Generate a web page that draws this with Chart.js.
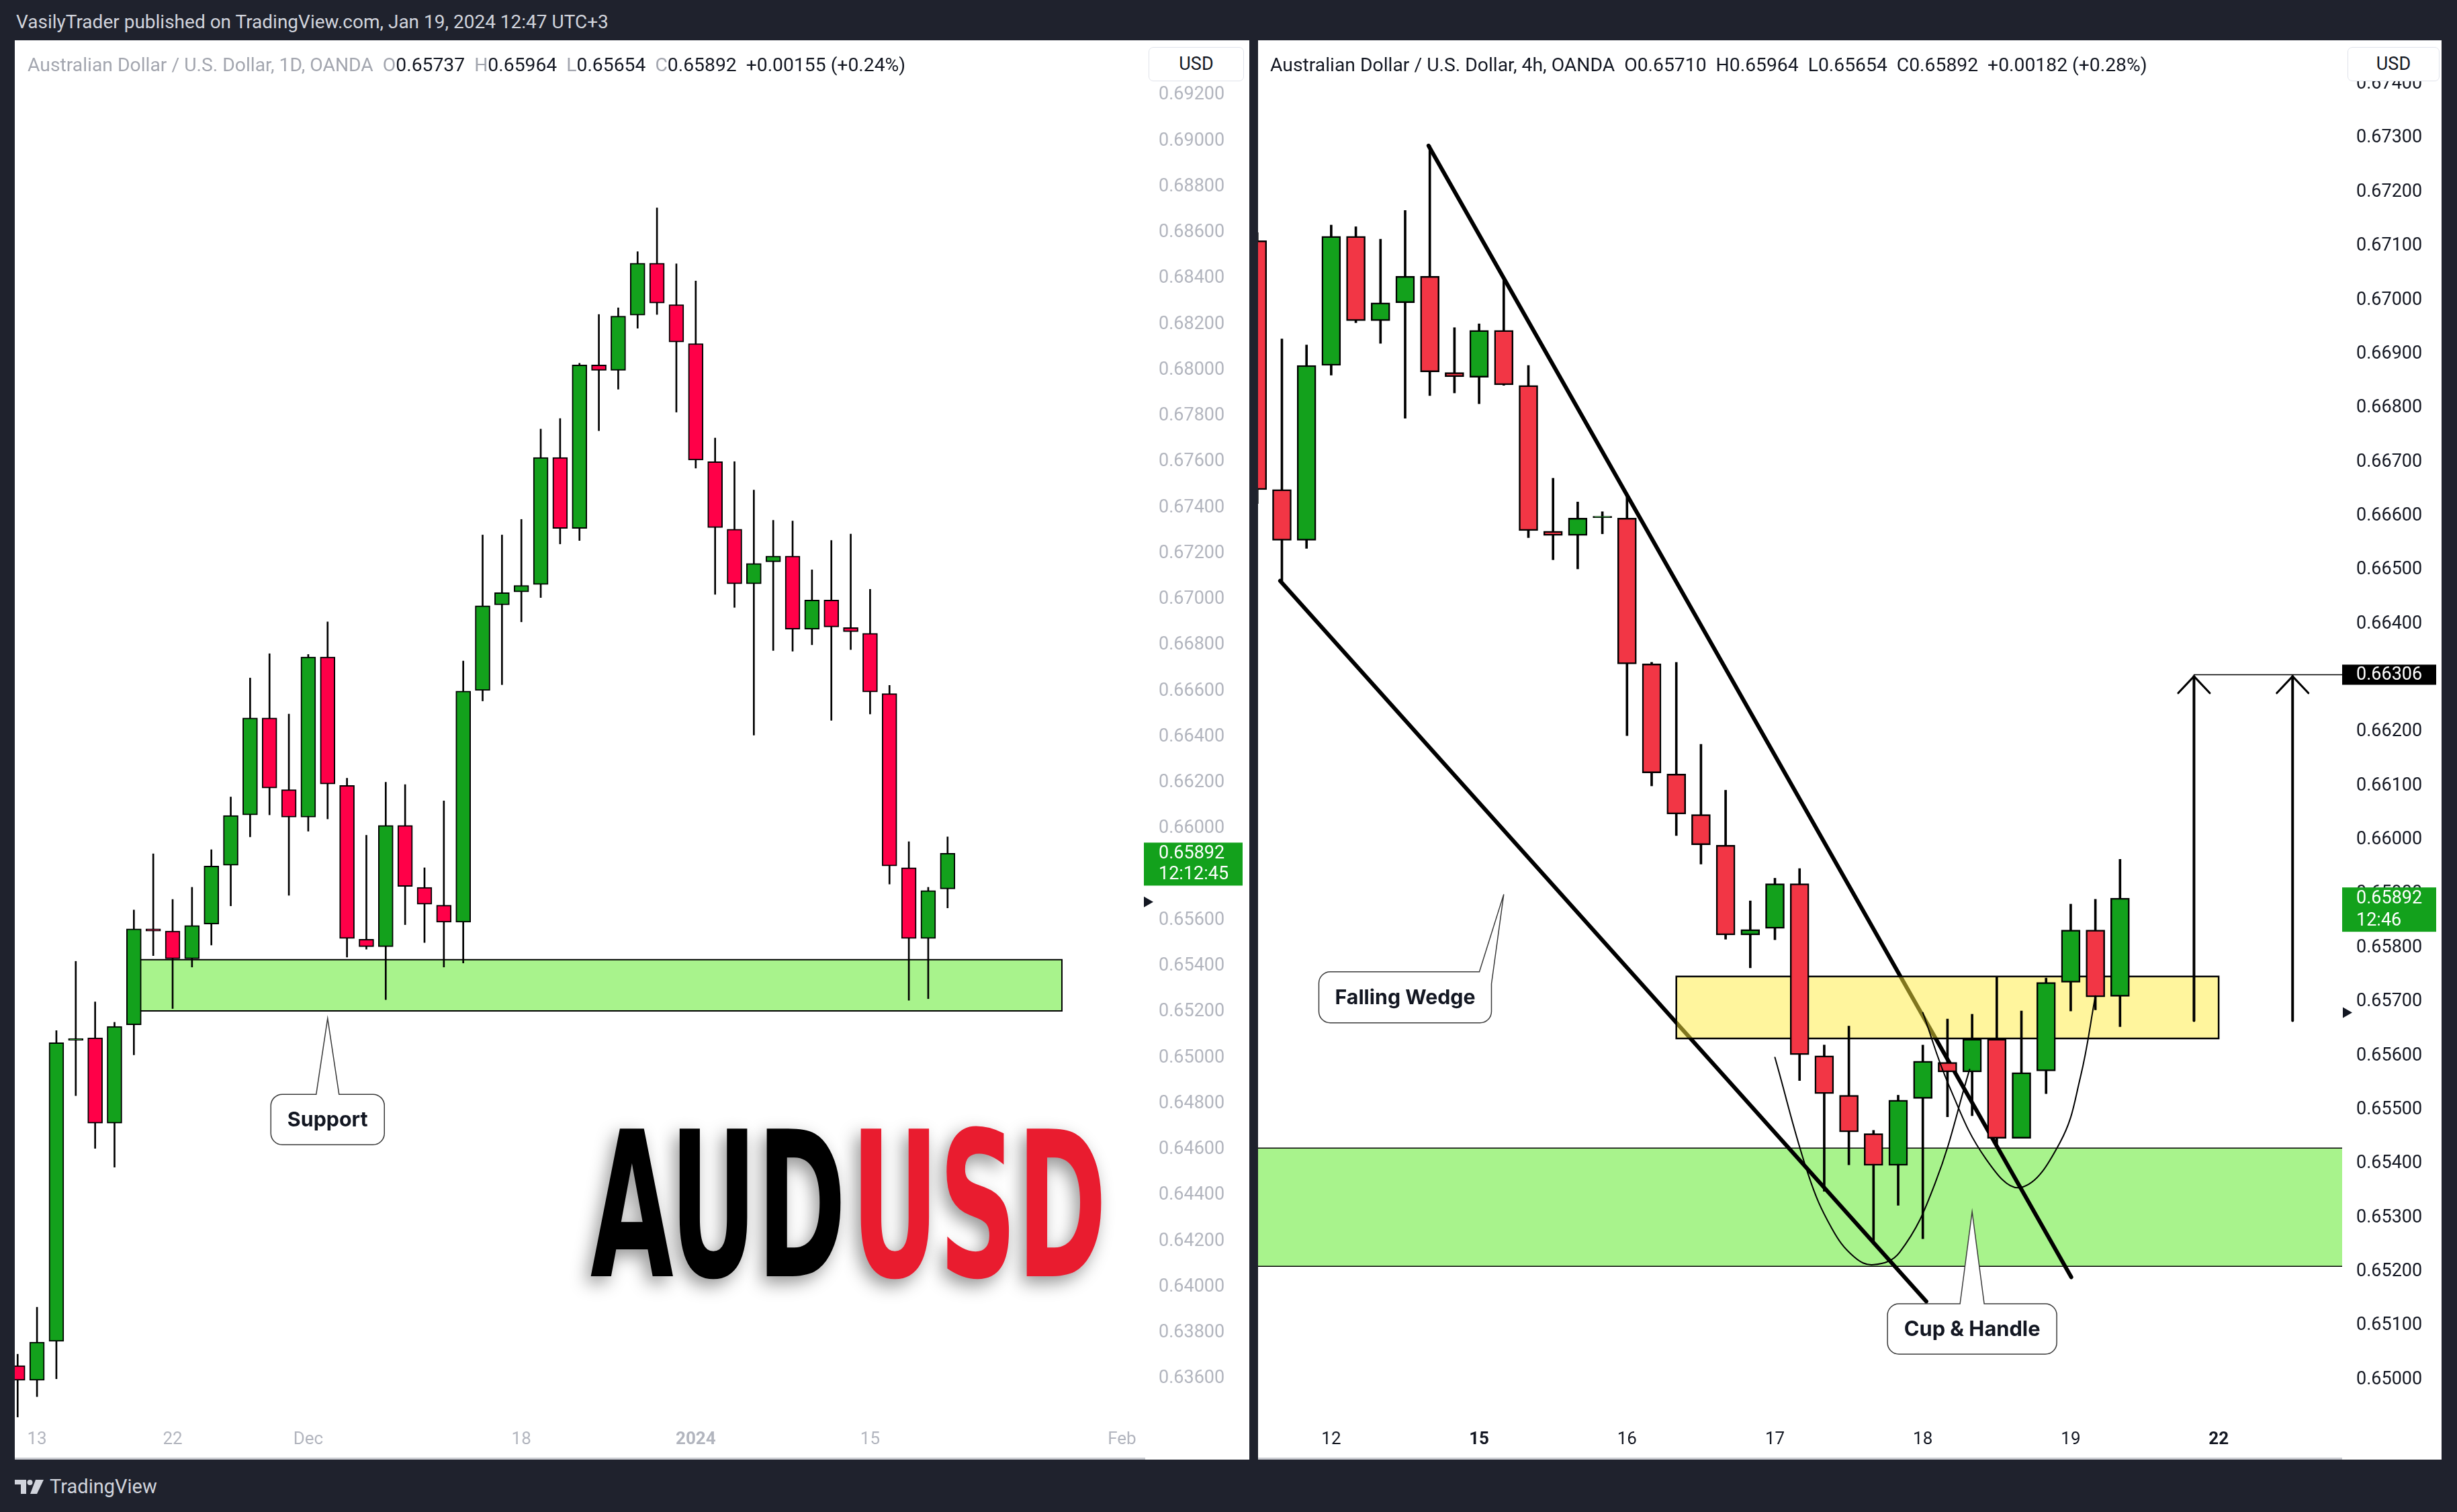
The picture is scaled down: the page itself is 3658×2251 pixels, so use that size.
<!DOCTYPE html>
<html>
<head>
<meta charset="utf-8">
<title>AUDUSD</title>
<script src="https://cdn.jsdelivr.net/npm/chart.js@4.4.1/dist/chart.umd.min.js"></script>
<style>
  html, body { margin:0; padding:0; }
  body { width:3658px; height:2251px; background:#1f222d; position:relative; overflow:hidden; font-family: Roboto, "Liberation Sans", Arial, sans-serif; }
  #pub { position:absolute; left:24px; top:14px; font-size:28px; line-height:38px; color:#d1d4dc; white-space:nowrap; }
  .panel { position:absolute; top:60px; height:2113px; background:#fff; overflow:hidden; }
  #pL { left:22px; width:1838px; }
  #pR { left:1873px; width:1762px; }
  .cw { position:absolute; left:0; top:0; width:100%; height:100%; }
  .legend { position:absolute; top:20px; font-size:28.3px; line-height:34px; white-space:nowrap; color:#131722; z-index:2; }
  .legend .g { color:#a3a6af; }
  .legend .sp { display:inline-block; width:14px; }
  .usd { position:absolute; top:10px; height:49px; border:1px solid #e0e3eb; border-radius:7px; background:#fff; font-size:27px; line-height:49px; text-align:center; color:#131722; z-index:2; }
  .scroll { position:absolute; bottom:0; left:0; height:3px; background:#c9cbd1; z-index:2; }
  #logo { position:absolute; left:22px; top:2195px; height:36px; display:flex; align-items:center; color:#d1d4dc; font-size:29px; gap:9px; }
</style>
</head>
<body>
<div id="pub">VasilyTrader published on TradingView.com, Jan 19, 2024 12:47 UTC+3</div>

<div class="panel" id="pL">
  <div class="cw"><canvas id="cL"></canvas></div>
  <div class="legend" style="left:19px"><span class="g">Australian Dollar / U.S. Dollar, 1D, OANDA</span><span class="sp"></span><span class="g">O</span>0.65737<span class="sp"></span><span class="g">H</span>0.65964<span class="sp"></span><span class="g">L</span>0.65654<span class="sp"></span><span class="g">C</span>0.65892<span class="sp"></span>+0.00155 (+0.24%)</div>
  <div class="usd" style="left:1688px;width:140px">USD</div>
  <div class="scroll" style="width:1683px"></div>
</div>

<div class="panel" id="pR">
  <div class="cw"><canvas id="cR"></canvas></div>
  <div class="legend" style="left:18px">Australian Dollar / U.S. Dollar, 4h, OANDA<span class="sp"></span>O0.65710<span class="sp"></span>H0.65964<span class="sp"></span>L0.65654<span class="sp"></span>C0.65892<span class="sp"></span>+0.00182 (+0.28%)</div>
  <div class="usd" style="left:1622px;width:135px">USD</div>
  <div class="scroll" style="width:1614px"></div>
</div>

<div id="logo">
  <svg width="43" height="21" viewBox="0 0 43 21"><path d="M0 0H17V21H9V7H0Z" fill="#d1d4dc"/><circle cx="22.5" cy="4" r="4" fill="#d1d4dc"/><path d="M31 0H43L33 21H23Z" fill="#d1d4dc"/></svg>
  <span>TradingView</span>
</div>

<script>
// ================= DATA: left panel (AUD/USD, 1D, OANDA) =================
const leftDates = ['2023-11-10','2023-11-13','2023-11-14','2023-11-15','2023-11-16','2023-11-17','2023-11-20','2023-11-21','2023-11-22','2023-11-23','2023-11-24','2023-11-27','2023-11-28','2023-11-29','2023-11-30','2023-12-01','2023-12-04','2023-12-05','2023-12-06','2023-12-07','2023-12-08','2023-12-11','2023-12-12','2023-12-13','2023-12-14','2023-12-15','2023-12-18','2023-12-19','2023-12-20','2023-12-21','2023-12-22','2023-12-26','2023-12-27','2023-12-28','2023-12-29','2024-01-02','2024-01-03','2024-01-04','2024-01-05','2024-01-08','2024-01-09','2024-01-10','2024-01-11','2024-01-12','2024-01-15','2024-01-16','2024-01-17','2024-01-18','2024-01-19'];
const leftOpen  = [0.63657,0.63593,0.63763,0.65077,0.65087,0.64715,0.65144,0.65563,0.65553,0.65432,0.65584,0.65840,0.66060,0.66483,0.66170,0.66050,0.66749,0.66188,0.65517,0.65485,0.66014,0.65744,0.65666,0.65592,0.66603,0.66976,0.67033,0.67065,0.67619,0.67310,0.68023,0.67999,0.68240,0.68467,0.68286,0.68116,0.67601,0.67306,0.67068,0.67164,0.67189,0.66870,0.66997,0.66877,0.66852,0.66589,0.65829,0.65521,0.65737];
const leftHigh  = [0.63707,0.63912,0.65119,0.65421,0.65244,0.65155,0.65645,0.65890,0.65691,0.65744,0.65908,0.66138,0.66657,0.66763,0.66500,0.66760,0.66902,0.66220,0.65971,0.66202,0.66192,0.65829,0.66121,0.66731,0.67281,0.67281,0.67349,0.67743,0.67789,0.68030,0.68243,0.68272,0.68517,0.68708,0.68464,0.68389,0.67704,0.67601,0.67477,0.67345,0.67342,0.67129,0.67257,0.67285,0.67044,0.66625,0.65943,0.65744,0.65964];
const leftLow   = [0.63433,0.63522,0.63600,0.64835,0.64605,0.64523,0.65013,0.65446,0.65215,0.65396,0.65492,0.65663,0.65964,0.66060,0.65709,0.65989,0.66042,0.65439,0.65474,0.65254,0.65581,0.65503,0.65396,0.65414,0.66557,0.66628,0.66902,0.67008,0.67242,0.67257,0.67736,0.67917,0.68183,0.68243,0.67817,0.67573,0.67022,0.66965,0.66408,0.66777,0.66774,0.66802,0.66472,0.66781,0.66500,0.65758,0.65251,0.65258,0.65654];
const leftClose = [0.63593,0.63760,0.65066,0.65084,0.64715,0.65137,0.65563,0.65553,0.65432,0.65577,0.65837,0.66057,0.66483,0.66177,0.66050,0.66749,0.66195,0.65521,0.65485,0.66014,0.65748,0.65670,0.65592,0.66600,0.66972,0.67029,0.67061,0.67619,0.67310,0.68023,0.67999,0.68236,0.68467,0.68293,0.68123,0.67608,0.67313,0.67068,0.67157,0.67189,0.66870,0.66997,0.66880,0.66859,0.66596,0.65837,0.65521,0.65730,0.65892];
const leftTickPos    = [1, 8, 15, 26, 35, 44, 57];
const leftTickLabels = ['13', '22', 'Dec', '18', '2024', '15', 'Feb'];
const leftPriceTicks = [0.692,0.690,0.688,0.686,0.684,0.682,0.680,0.678,0.676,0.674,0.672,0.670,0.668,0.666,0.664,0.662,0.660,0.658,0.656,0.654,0.652,0.650,0.648,0.646,0.644,0.642,0.640,0.638,0.636];

// ================= DATA: right panel (AUD/USD, 4h, OANDA) =================
const rightDates = ['01-11 13:00','01-11 17:00','01-11 21:00','01-12 01:00','01-12 05:00','01-12 09:00','01-12 13:00','01-12 17:00','01-12 21:00','01-15 01:00','01-15 05:00','01-15 09:00','01-15 13:00','01-15 17:00','01-15 21:00','01-16 01:00','01-16 05:00','01-16 09:00','01-16 13:00','01-16 17:00','01-16 21:00','01-17 01:00','01-17 05:00','01-17 09:00','01-17 13:00','01-17 17:00','01-17 21:00','01-18 01:00','01-18 05:00','01-18 09:00','01-18 13:00','01-18 17:00','01-18 21:00','01-19 01:00','01-19 05:00','01-19 09:00'];
const rightOpen  = [0.67110,0.66649,0.66555,0.66879,0.67118,0.66962,0.66995,0.67044,0.66866,0.66857,0.66944,0.66842,0.66572,0.66564,0.66597,0.66596,0.66326,0.66122,0.66047,0.65990,0.65824,0.65836,0.65919,0.65600,0.65527,0.65456,0.65397,0.65521,0.65588,0.65570,0.65631,0.65447,0.65572,0.65736,0.65833,0.65710];
const rightHigh  = [0.67125,0.66928,0.66917,0.67139,0.67136,0.67113,0.67166,0.67286,0.66949,0.66956,0.67038,0.66879,0.66670,0.66626,0.66608,0.66638,0.66329,0.66329,0.66177,0.66092,0.65887,0.65929,0.65947,0.65620,0.65655,0.65462,0.65527,0.65620,0.65668,0.65677,0.65745,0.65683,0.65744,0.65881,0.65890,0.65964];
const rightLow   = [0.66623,0.66480,0.66540,0.66861,0.66958,0.66920,0.66781,0.66823,0.66828,0.66808,0.66842,0.66560,0.66519,0.66502,0.66567,0.66193,0.66100,0.66008,0.65955,0.65816,0.65763,0.65815,0.65554,0.65349,0.65398,0.65251,0.65323,0.65261,0.65487,0.65489,0.65432,0.65447,0.65530,0.65683,0.65685,0.65654];
const rightClose = [0.66649,0.66555,0.66879,0.67118,0.66962,0.66995,0.67044,0.66867,0.66858,0.66944,0.66843,0.66573,0.66564,0.66596,0.66597,0.66326,0.66124,0.66048,0.65991,0.65824,0.65834,0.65919,0.65602,0.65530,0.65459,0.65397,0.65518,0.65590,0.65570,0.65631,0.65447,0.65569,0.65736,0.65833,0.65709,0.65892];
const rightTickPos    = [3, 9, 15, 21, 27, 33, 39];
const rightTickLabels = ['12', '15', '16', '17', '18', '19', '22'];
const rightPriceTicks = [0.674,0.673,0.672,0.671,0.670,0.669,0.668,0.667,0.666,0.665,0.664,0.663,0.662,0.661,0.660,0.659,0.658,0.657,0.656,0.655,0.654,0.653,0.652,0.651,0.650];

// ---- drawings (bar index, price) ----
const supportZone   = { x0: 6.3, x1: 53.9, lo: 0.65205, hi: 0.65428 };
const greenZoneR    = { lo: 0.65210, hi: 0.65429 };
const yellowZoneR   = { x0: 17.0, x1: 39.0, lo: 0.65632, hi: 0.65747 };
const wedgeUpper    = [{x: 6.95, y: 0.67286}, {x: 33.02, y: 0.65190}];
const wedgeLower    = [{x: 0.93, y: 0.66480}, {x: 27.14, y: 0.65145}];
const cupCurve      = [{x:21.0,y:0.65597},{x:22.36,y:0.65379},{x:23.3,y:0.65281},{x:24.2,y:0.65228},{x:25.0,y:0.65213},{x:26.06,y:0.65236},{x:27.5,y:0.65364},{x:28.9,y:0.65575}];
const handleCurve   = [{x:27.0,y:0.65680},{x:28.06,y:0.65545},{x:29.56,y:0.65409},{x:30.97,y:0.65356},{x:32.56,y:0.65439},{x:33.39,y:0.65560},{x:34.0,y:0.65711}];
const target1Shaft  = [{x:38, y:0.65665}, {x:38, y:0.66303}];
const target1Head   = [{x:37.36, y:0.66272}, {x:38, y:0.66303}, {x:38.64, y:0.66272}];
const target2Shaft  = [{x:42, y:0.65665}, {x:42, y:0.66303}];
const target2Head   = [{x:41.36, y:0.66272}, {x:42, y:0.66303}, {x:42.64, y:0.66272}];
const targetLine    = [{x:38, y:0.66306}, {x:44.2, y:0.66306}];

// ================= drawing helpers =================
function drawZone(chart, z) {
  const {ctx, chartArea: ca, scales: {x, y}} = chart;
  const x0 = z.x0 == null ? ca.left - 2 : x.getPixelForValue(z.x0);
  const x1 = z.x1 == null ? ca.right + 2 : x.getPixelForValue(z.x1);
  const yt = y.getPixelForValue(z.hi), yb = y.getPixelForValue(z.lo);
  ctx.save();
  ctx.beginPath(); ctx.rect(ca.left, ca.top, ca.right - ca.left, ca.bottom - ca.top); ctx.clip();
  ctx.fillStyle = z.fill; ctx.fillRect(x0, yt, x1 - x0, yb - yt);
  ctx.strokeStyle = '#000'; ctx.lineWidth = z.lw;
  ctx.beginPath();
  if (z.box) ctx.rect(x0, yt, x1 - x0, yb - yt);
  else { ctx.moveTo(x0, yt); ctx.lineTo(x1, yt); ctx.moveTo(x0, yb); ctx.lineTo(x1, yb); }
  ctx.stroke();
  ctx.restore();
}

function drawCallout(chart, c) {
  const {ctx, scales: {x, y}} = chart;
  const cx = x.getPixelForValue(c.x), cy = y.getPixelForValue(c.price);
  const tx = x.getPixelForValue(c.tipX), ty = y.getPixelForValue(c.tipPrice);
  const W = c.w, H = c.h, L = cx - W / 2, T = cy - H / 2, R = L + W, B = T + H, r = 17;
  ctx.save();
  ctx.beginPath();
  ctx.moveTo(L + r, T);
  if (c.attach === 'top') {
    ctx.lineTo(tx - c.base, T); ctx.lineTo(tx, ty); ctx.lineTo(tx + c.base, T);
    ctx.lineTo(R - r, T); ctx.arcTo(R, T, R, T + r, r);
  } else {
    ctx.lineTo(R - c.base, T); ctx.lineTo(tx, ty); ctx.lineTo(R, T + c.base);
  }
  ctx.lineTo(R, B - r); ctx.arcTo(R, B, R - r, B, r);
  ctx.lineTo(L + r, B); ctx.arcTo(L, B, L, B - r, r);
  ctx.lineTo(L, T + r); ctx.arcTo(L, T, L + r, T, r);
  ctx.closePath();
  ctx.fillStyle = '#fff'; ctx.fill();
  ctx.strokeStyle = '#3a3a3a'; ctx.lineWidth = 1.5; ctx.stroke();
  ctx.font = '700 30px Inter, Roboto, sans-serif';
  const size = 30 * c.textW / ctx.measureText(c.text).width;
  ctx.font = `700 ${size}px Inter, Roboto, sans-serif`;
  ctx.fillStyle = '#131722'; ctx.textAlign = 'center'; ctx.textBaseline = 'middle';
  ctx.fillText(c.text, cx, cy + 1);
  ctx.restore();
}

function drawTitle(chart, t) {
  const {ctx, scales: {x, y}} = chart;
  const x0 = x.getPixelForValue(t.x), base = y.getPixelForValue(t.price);
  const fam = '"Liberation Sans Narrow", "DejaVu Sans Condensed", "Liberation Sans", sans-serif';
  ctx.save();
  ctx.font = `bold 200px ${fam}`;
  const asc = ctx.measureText('AUD').actualBoundingBoxAscent;
  const size = 200 * t.capH / asc;
  ctx.font = `bold ${size}px ${fam}`;
  ctx.textAlign = 'left'; ctx.textBaseline = 'alphabetic';
  ctx.shadowColor = 'rgba(0,0,0,0.42)'; ctx.shadowBlur = 26; ctx.shadowOffsetX = -7; ctx.shadowOffsetY = 10;
  t.parts.forEach(p => {
    const m = ctx.measureText(p.text);
    const vis = m.actualBoundingBoxLeft + m.actualBoundingBoxRight;
    const sx = p.w / vis;
    ctx.save();
    ctx.translate(x0 + p.dx, base);
    ctx.scale(sx, 1);
    ctx.fillStyle = p.color;
    ctx.fillText(p.text, m.actualBoundingBoxLeft, 0);
    ctx.restore();
  });
  ctx.restore();
}

function drawMarker(chart, m) {
  const {ctx, chartArea: ca, scales: {y}} = chart;
  const py = y.getPixelForValue(m.price);
  ctx.save();
  ctx.fillStyle = '#131722';
  ctx.beginPath();
  ctx.moveTo(ca.right + m.dx, py - 8); ctx.lineTo(ca.right + m.dx + 14, py); ctx.lineTo(ca.right + m.dx, py + 8);
  ctx.closePath(); ctx.fill();
  ctx.restore();
}

function drawTag(chart, t) {
  const {ctx, chartArea: ca, scales: {y}} = chart;
  const py = y.getPixelForValue(t.price);
  ctx.save();
  ctx.fillStyle = t.bg;
  ctx.fillRect(ca.right + t.dx, py + t.top, t.w, t.h);
  ctx.fillStyle = t.fg; ctx.font = '27px Roboto, sans-serif';
  ctx.textAlign = 'left'; ctx.textBaseline = 'middle';
  t.lines.forEach((s, i) => ctx.fillText(s, ca.right + t.textX, py + 1 + i * t.lh));
  ctx.restore();
}

function makeAnnot(d) {
  return {
    id: 'annot',
    beforeDatasetsDraw(chart) { d.zonesBelow.forEach(z => drawZone(chart, z)); },
    beforeDatasetDraw(chart, args) {
      if (chart.data.datasets[args.index].role === 'wick') d.zonesAbove.forEach(z => drawZone(chart, z));
    },
    afterDraw(chart) {
      if (d.title) drawTitle(chart, d.title);
      d.callouts.forEach(c => drawCallout(chart, c));
      d.markers.forEach(m => drawMarker(chart, m));
      d.tags.forEach(t => drawTag(chart, t));
    }
  };
}

function buildChart(canvasId, d) {
  const wicks  = d.low.map((lo, k) => ({ x: k, y: [lo, d.high[k]] }));
  const bodies = d.open.map((o, k) => ({ x: k, y: [o, d.close[k]] }));
  const bodyColors = d.open.map((o, k) => d.close[k] >= o ? d.up : d.down);
  const lineSets = d.lines.map(l => ({
    type: 'line', data: l.pts, borderColor: '#000', borderWidth: l.w, tension: l.tension || 0,
    pointRadius: 0, pointHoverRadius: 0, fill: false, order: l.order,
    borderCapStyle: 'round', borderJoinStyle: 'round'
  }));
  return new Chart(document.getElementById(canvasId), {
    type: 'bar',
    data: {
      datasets: [
        ...lineSets,
        { type: 'bar', role: 'wick', data: wicks, backgroundColor: '#000', borderWidth: 0,
          barThickness: d.wickW, grouped: false, order: 3 },
        { type: 'bar', role: 'body', data: bodies, backgroundColor: bodyColors, borderColor: '#000',
          borderWidth: d.bodyBorder, borderSkipped: false, barThickness: d.bodyW, grouped: false,
          minBarLength: 2, order: 2 }
      ]
    },
    options: {
      responsive: true, maintainAspectRatio: false, animation: false, devicePixelRatio: 1, events: [],
      layout: { padding: 0 },
      plugins: { legend: { display: false }, tooltip: { enabled: false } },
      scales: {
        x: {
          type: 'linear', min: d.xMin, max: d.xMax, offset: false, bounds: 'data',
          afterFit: s => { s.height = d.xAxisH; s.paddingLeft = 0; s.paddingRight = 0; },
          afterBuildTicks: s => { s.ticks = d.tickPos.map(v => ({ value: v })); },
          ticks: {
            autoSkip: false, maxRotation: 0, minRotation: 0, padding: 18, color: d.axisColor,
            callback: (v, i) => d.tickLabels[i],
            font: c => ({ family: 'Roboto', size: 26, weight: d.boldTicks.includes(c.index) ? 'bold' : 'normal' })
          },
          grid: { display: false, drawTicks: false }, border: { display: false }
        },
        y: {
          type: 'linear', position: 'right', min: d.yMin, max: d.yMax, bounds: 'data', beginAtZero: false,
          afterFit: s => { s.width = d.yAxisW; s.paddingTop = 0; s.paddingBottom = 0; },
          afterBuildTicks: s => { s.ticks = d.priceTicks.map(v => ({ value: v })); },
          ticks: {
            autoSkip: false, padding: d.yPad, crossAlign: 'near', color: d.axisColor,
            font: { family: 'Roboto', size: 27 }, callback: v => Number(v).toFixed(5)
          },
          grid: { display: false, drawTicks: false }, border: { display: false }
        }
      }
    },
    plugins: [makeAnnot(d)]
  });
}

// ================= LEFT CHART =================
buildChart('cL', {
  open: leftOpen, high: leftHigh, low: leftLow, close: leftClose,
  up: '#13a11c', down: '#ff0048', wickW: 2, bodyW: 22, bodyBorder: 2,
  xMin: -0.1475, xMax: 58.2, yMin: 0.634318, yMax: 0.694391,
  xAxisH: 63, yAxisW: 155, yPad: 20, axisColor: '#b2b5be',
  tickPos: leftTickPos, tickLabels: leftTickLabels, boldTicks: [4], priceTicks: leftPriceTicks,
  lines: [],
  zonesBelow: [Object.assign({ fill: '#a8f38c', lw: 2, box: true }, supportZone)],
  zonesAbove: [],
  title: { x: 29.56, price: 0.64047, capH: 220, parts: [
    { text: 'AUD', dx: 0, w: 373, color: '#000000' },
    { text: 'USD', dx: 402, w: 359, color: '#e91c2f' } ] },
  callouts: [{ text: 'Support', textW: 120, x: 16.0, price: 0.64731, tipX: 16.0, tipPrice: 0.65172, w: 169, h: 75, attach: 'top', base: 17 }],
  markers: [{ price: 0.6568, dx: -2 }],
  tags: [{ price: 0.65892, bg: '#13a11c', fg: '#ffffff', dx: -2, top: -16, w: 147, h: 64, textX: 20, lh: 31, lines: ['0.65892', '12:12:45'] }]
});

// ================= RIGHT CHART =================
buildChart('cR', {
  open: rightOpen, high: rightHigh, low: rightLow, close: rightClose,
  up: '#13a11c', down: '#f23645', wickW: 3, bodyW: 28, bodyBorder: 2.5,
  xMin: 0.033, xMax: 44.01, yMin: 0.649303, yMax: 0.674813,
  xAxisH: 63, yAxisW: 148, yPad: 21, axisColor: '#131722',
  tickPos: rightTickPos, tickLabels: rightTickLabels, boldTicks: [1, 6], priceTicks: rightPriceTicks,
  lines: [
    { pts: wedgeUpper, w: 6, order: 5 },
    { pts: wedgeLower, w: 6, order: 5 },
    { pts: cupCurve, w: 2, tension: 0.4, order: 1 },
    { pts: handleCurve, w: 2, tension: 0.4, order: 1 },
    { pts: target1Shaft, w: 4, order: 1 },
    { pts: target1Head, w: 3, order: 1 },
    { pts: target2Shaft, w: 4, order: 1 },
    { pts: target2Head, w: 3, order: 1 },
    { pts: targetLine, w: 1.5, order: 1 }
  ],
  zonesBelow: [Object.assign({ fill: '#a8f38c', lw: 1.5, box: false }, greenZoneR)],
  zonesAbove: [Object.assign({ fill: 'rgba(255,235,59,0.5)', lw: 2.5, box: true }, yellowZoneR)],
  title: null,
  callouts: [
    { text: 'Falling Wedge', textW: 209, x: 6.0, price: 0.657084, tipX: 10.0, tipPrice: 0.658992, w: 257, h: 76, attach: 'corner', base: 18 },
    { text: 'Cup & Handle', textW: 203, x: 29.0, price: 0.650939, tipX: 29.0, tipPrice: 0.653111, w: 252, h: 75, attach: 'top', base: 18 }
  ],
  markers: [{ price: 0.6568, dx: 1 }],
  tags: [
    { price: 0.66306, bg: '#000000', fg: '#ffffff', dx: 0, top: -15, w: 140, h: 30, textX: 21, lh: 0, lines: ['0.66306'] },
    { price: 0.65892, bg: '#13a11c', fg: '#ffffff', dx: 0, top: -16, w: 140, h: 66, textX: 21, lh: 33, lines: ['0.65892', '12:46'] }
  ]
});
</script>
</body>
</html>
